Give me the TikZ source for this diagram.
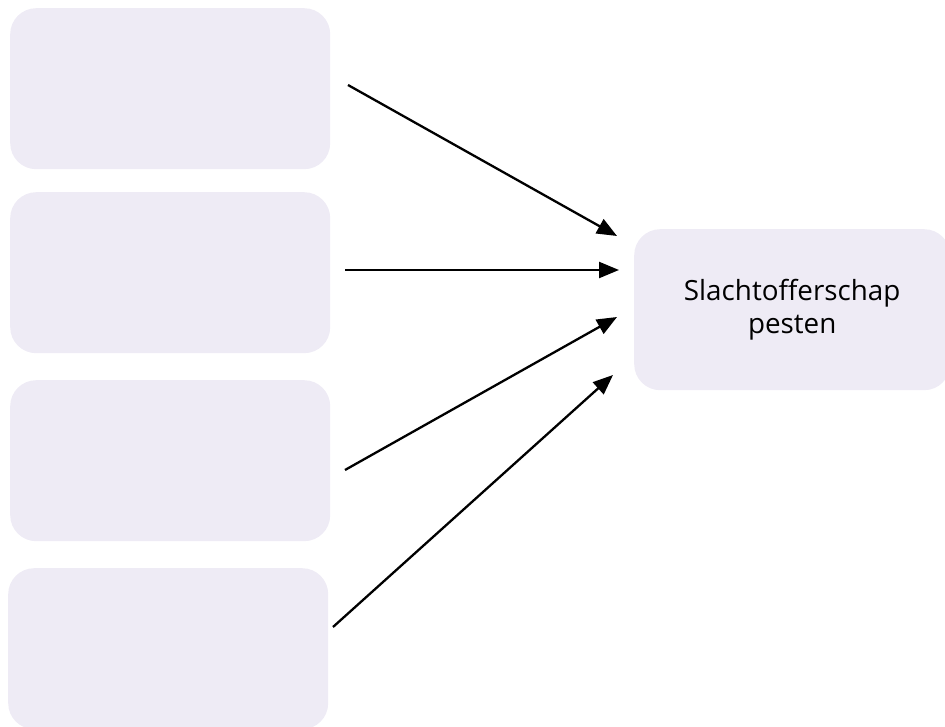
\documentclass[tikz,border=0pt]{standalone}
\usepackage{fontspec}
\setmainfont{Open Sans}
\usetikzlibrary{arrows.meta}
\definecolor{boxfill}{HTML}{EEEBF5}
\begin{document}
\begin{tikzpicture}[x=1pt,y=-1pt,
  box/.style={fill=boxfill,rounded corners=26pt,minimum width=320pt,minimum height=161pt,inner sep=0pt,anchor=north west},
  conn/.style={line width=2.3pt,-{Triangle[length=20pt,width=16pt]}}]
\useasboundingbox (0,0) rectangle (945,727);
\node[box] (b1) at (10,8) {};
\node[box] (b2) at (10,192) {};
\node[box] (b3) at (10,380) {};
\node[box] (b4) at (8,568) {};
\node[box,minimum width=316pt,align=center,font=\fontsize{27.8}{33}\selectfont] (t) at (634,229) {Slachtofferschap\\pesten};
\coordinate (s1) at (348,85);  \coordinate (e1) at (617,236);
\coordinate (s2) at (345,270); \coordinate (e2) at (619,270);
\coordinate (s3) at (345,470); \coordinate (e3) at (617,317);
\coordinate (s4) at (333,627); \coordinate (e4) at (613,375);
\draw[conn] (s1) -- (e1);
\draw[conn] (s2) -- (e2);
\draw[conn] (s3) -- (e3);
\draw[conn] (s4) -- (e4);
\end{tikzpicture}
\end{document}
